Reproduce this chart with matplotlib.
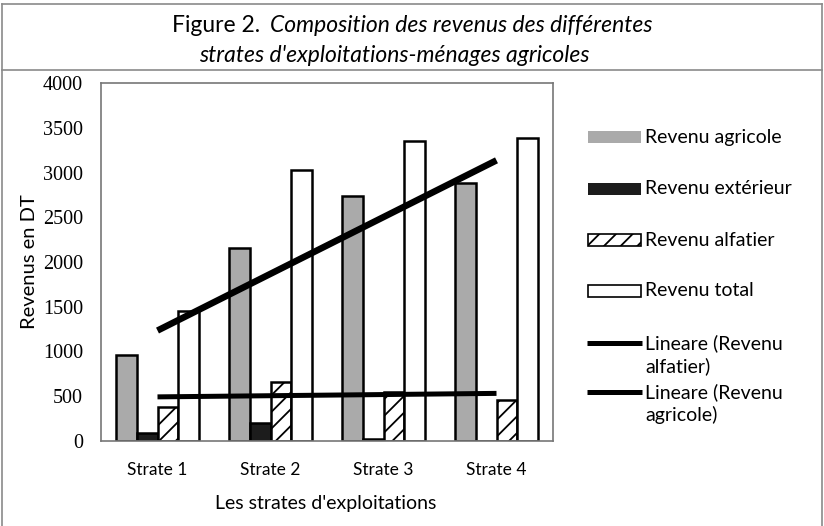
"""Figure 2: composition des revenus par strate d'exploitations."""
import numpy as np
import matplotlib
matplotlib.use('Agg')
import matplotlib.pyplot as plt
from matplotlib.patches import Rectangle
from matplotlib.lines import Line2D

# data
strates = ['Strate 1', 'Strate 2', 'Strate 3', 'Strate 4']
revenu_agricole = [960, 2160, 2740, 2880]
revenu_exterieur = [90, 200, 25, 0]
revenu_alfatier = [380, 660, 550, 460]
revenu_total = [1450, 3030, 3350, 3380]
y_ticks = [0, 500, 1000, 1500, 2000, 2500, 3000, 3500, 4000]

SANS = 'Lato'
SERIF = 'Liberation Serif'
W, H = 824, 526

styles = [
    dict(label='Revenu agricole', facecolor='#aaaaaa', edgecolor='black', hatch=None),
    dict(label='Revenu extérieur', facecolor='#1c1c1c', edgecolor='black', hatch=None),
    dict(label='Revenu alfatier', facecolor='white', edgecolor='black', hatch='//'),
    dict(label='Revenu total', facecolor='white', edgecolor='black', hatch=None),
]
series = [revenu_agricole, revenu_exterieur, revenu_alfatier, revenu_total]

plt.rcParams['hatch.linewidth'] = 1.3

fig = plt.figure(figsize=(W / 100, H / 100), dpi=100)
ax = fig.add_axes([101 / W, (H - 441) / H, 452 / W, 358 / H])

x = np.arange(len(strates))
w = 0.185
for i, (vals, st) in enumerate(zip(series, styles)):
    ax.bar(x + (i - 1.5) * w, vals, width=w, facecolor=st['facecolor'],
           edgecolor=st['edgecolor'], hatch=st['hatch'], linewidth=1.8, zorder=2)

# linear trends
for vals, lw in [(revenu_alfatier, 3.6), (revenu_agricole, 4.7)]:
    a, b = np.polyfit(x + 1, vals, 1)
    ax.plot(x, a * (x + 1) + b, color='black', linewidth=lw,
            solid_capstyle='butt', zorder=3)

ax.set_xlim(-0.5, len(strates) - 0.5)
ax.set_ylim(0, 4000)
ax.set_yticks(y_ticks)
ax.set_xticks(x)
ax.set_xticklabels(strates, fontfamily=SANS, fontsize=12.5)
for lab in ax.get_yticklabels():
    lab.set_fontfamily(SERIF)
    lab.set_fontsize(14.5)
ax.tick_params(axis='both', length=0)
ax.tick_params(axis='y', pad=13)
ax.tick_params(axis='x', pad=15)
for sp in ax.spines.values():
    sp.set_color('#777777')
    sp.set_linewidth(1.2)


def fx(px):
    return px / W


def fy(py):
    return 1 - py / H


# axis titles
fig.text(fx(326), fy(503), "Les strates d'exploitations", fontfamily=SANS, fontsize=14,
         ha='center', va='center')
fig.text(fx(30), fy(262), 'Revenus en DT', fontfamily=SANS, fontsize=14.5,
         ha='center', va='center', rotation=90)

# title
fig.text(fx(260), fy(25), 'Figure 2.', fontfamily=SANS, fontsize=16.5, va='center',
         ha='right')
fig.text(fx(270), fy(25), 'Composition des revenus des différentes', fontfamily=SANS,
         fontsize=16.5, style='italic', va='center')
fig.text(fx(394), fy(55), "strates d'exploitations-ménages agricoles", fontfamily=SANS,
         fontsize=16.5, style='italic', va='center', ha='center')

# frame around figure
frame_kw = dict(color='#8a8a8a', linewidth=1.2, transform=fig.transFigure)
fig.add_artist(Line2D([fx(2), fx(822)], [fy(4), fy(4)], **frame_kw))
fig.add_artist(Line2D([fx(2), fx(822)], [fy(70), fy(70)], **frame_kw))
fig.add_artist(Line2D([fx(2), fx(2)], [fy(4), 0], **frame_kw))
fig.add_artist(Line2D([fx(822), fx(822)], [fy(4), 0], **frame_kw))

# legend, drawn by hand so two-line labels align on their first line
leg_y = [137, 189, 240, 291]
for yy, st in zip(leg_y, styles):
    outlined = st['hatch'] is not None or st['facecolor'] == 'white'
    fig.add_artist(Rectangle((fx(588), fy(yy + 6)), 53 / W, 12 / H,
                             facecolor=st['facecolor'], edgecolor='black',
                             hatch=st['hatch'], linewidth=1.2 if outlined else 0,
                             transform=fig.transFigure))
    fig.text(fx(645), fy(yy), st['label'], fontfamily=SANS, fontsize=14, va='center')

trend_labels = [('Lineare (Revenu', 'alfatier)', 343), ('Lineare (Revenu', 'agricole)', 392)]
for l1, l2, yy in trend_labels:
    fig.add_artist(Line2D([fx(587), fx(642)], [fy(yy), fy(yy)], color='black',
                          linewidth=3.6, solid_capstyle='butt',
                          transform=fig.transFigure))
    fig.text(fx(645), fy(yy), l1, fontfamily=SANS, fontsize=14, va='center')
    fig.text(fx(645), fy(yy + 23), l2, fontfamily=SANS, fontsize=14, va='center')

fig.savefig('out.png', dpi=100)
